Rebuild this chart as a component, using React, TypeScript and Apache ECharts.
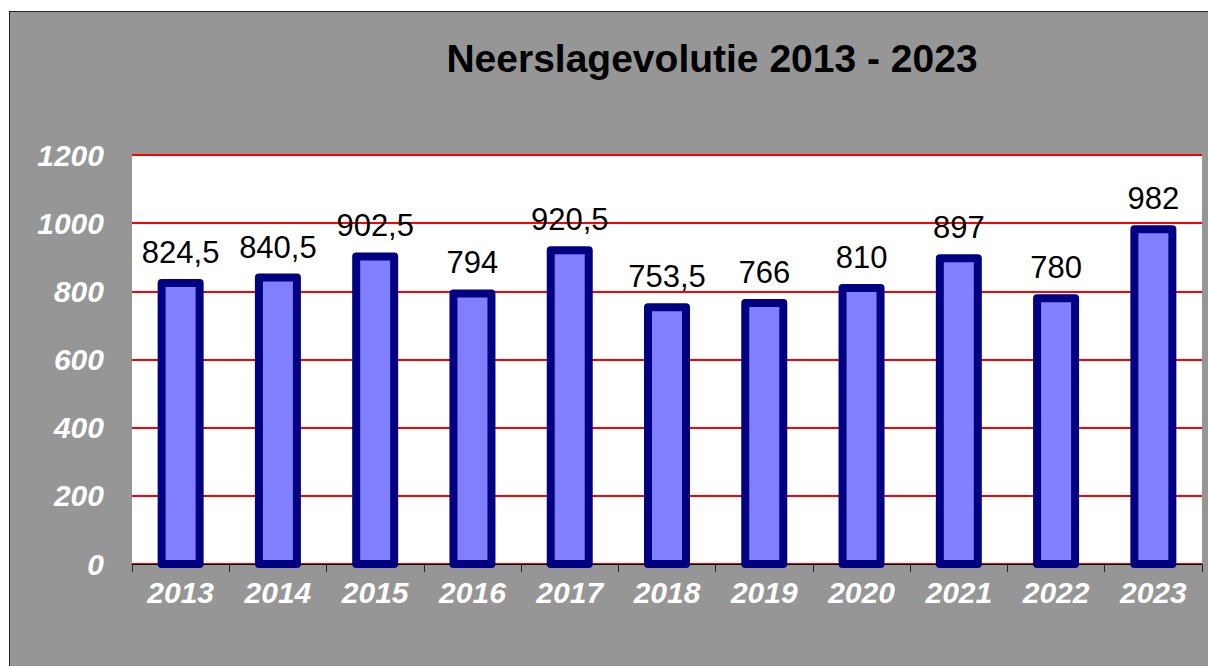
import React, { useEffect, useRef } from "react";
import * as echarts from "echarts";

const titleText = "Neerslagevolutie 2013 - 2023";
const years = ["2013", "2014", "2015", "2016", "2017", "2018", "2019", "2020", "2021", "2022", "2023"];
const rainfall = [824.5, 840.5, 902.5, 794, 920.5, 753.5, 766, 810, 897, 780, 982];
const yMin = 0;
const yMax = 1200;
const yStep = 200;

const FONT = "'Liberation Sans', Arial, sans-serif";

export default function App() {
  const ref = useRef<HTMLDivElement>(null);
  useEffect(() => {
    if (!ref.current) return;
    const chart = echarts.init(ref.current, undefined, { renderer: "svg" });
    const barW = 38;
    chart.setOption({
      animation: false,
      backgroundColor: "#969696",
      graphic: [
        {
          type: "text",
          x: 702,
          y: 46,
          style: {
            text: titleText,
            align: "center",
            verticalAlign: "middle",
            fill: "#000",
            font: `bold 39px ${FONT}`,
          },
        },
      ],
      grid: {
        left: 122,
        top: 143,
        right: 6,
        bottom: 102,
        show: true,
        backgroundColor: "#ffffff",
        borderWidth: 0,
      },
      xAxis: {
        type: "category",
        data: years,
        axisLine: { show: true, lineStyle: { color: "#000", width: 1 } },
        axisTick: { show: true, length: 8, lineStyle: { color: "#222", width: 1 } },
        axisLabel: {
          color: "#fff",
          fontFamily: FONT,
          fontSize: 30,
          fontWeight: "bold",
          fontStyle: "italic",
          margin: 13,
        },
      },
      yAxis: {
        type: "value",
        min: yMin,
        max: yMax,
        interval: yStep,
        axisLine: { show: false },
        axisTick: { show: false },
        splitLine: { show: true, lineStyle: { color: "#ff0000", width: 2 } },
        axisLabel: {
          color: "#fff",
          fontFamily: FONT,
          fontSize: 30,
          fontWeight: "bold",
          fontStyle: "italic",
          margin: 28,
          formatter: (v: number) => String(v),
        },
      },
      series: [
        {
          type: "custom",
          data: rainfall.map((v, i) => [i, v]),
          encode: { x: 0, y: 1 },
          clip: false,
          renderItem: (params: any, api: any) => {
            const top = api.coord([api.value(0), api.value(1)]);
            const base = api.coord([api.value(0), 0]);
            const label = String(api.value(1)).replace(".", ",");
            return {
              type: "rect",
              shape: {
                x: top[0] - barW / 2,
                y: top[1],
                width: barW,
                height: base[1] - top[1],
              },
              style: {
                fill: "#8080ff",
                stroke: "#000080",
                lineWidth: 8,
                lineJoin: "round",
              },
              textContent: {
                style: {
                  text: label,
                  fill: "#000",
                  font: `31px ${FONT}`,
                },
              },
              textConfig: { position: "top", distance: 11 },
            };
          },
        },
      ],
    });
    return () => chart.dispose();
  }, []);
  return (
    <div
      style={{
        position: "absolute",
        left: 9,
        top: 11,
        borderLeft: "1px solid #222",
        borderTop: "1px solid #222",
      }}
    >
      <div ref={ref} style={{ width: 1198, height: 654 }} />
    </div>
  );
}
